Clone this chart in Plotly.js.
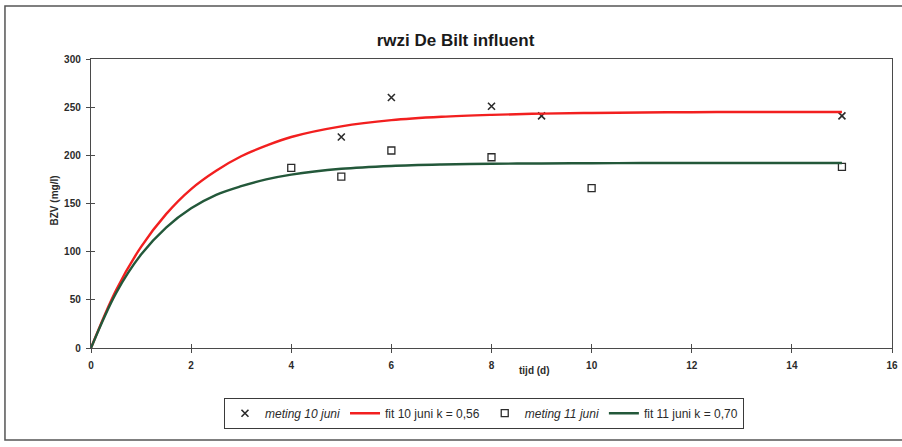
<!DOCTYPE html>
<html>
<head>
<meta charset="utf-8">
<script src="https://cdn.plot.ly/plotly-3.0.1.min.js"></script>
<style>
  html, body { margin: 0; padding: 0; background: #ffffff; }
  #chart { width: 902px; height: 447px; }
</style>
</head>
<body>
<div id="chart"></div>
<script>
// BZV measurements (mg/l) per day, two sampling dates
const meting10Dag = [5, 6, 8, 9, 15];
const meting10BZV = [219, 260, 251, 241, 241];

const meting11Dag = [4, 5, 6, 8, 10, 15];
const meting11BZV = [187, 178, 205, 198, 166, 188];

// fitted first-order BZV curves, sampled along the time axis
const fitDag   = [0, 0.5, 1, 1.5, 2, 2.5, 3, 3.5, 4, 5, 6, 7, 8, 9, 10, 11, 12, 13, 14, 15];
const fit10BZV = [0, 60, 105, 139, 165, 184, 199, 210, 219, 230, 236.5, 240, 242, 243.3, 244, 244.5, 244.8, 245, 245, 245];
const fit11BZV = [0, 57, 97, 125, 145, 159, 168, 175, 180, 186, 189, 190.5, 191.3, 191.6, 191.8, 192, 192, 192, 192, 192];

const xTicks = [0, 2, 4, 6, 8, 10, 12, 14, 16];
const yTicks = [0, 50, 100, 150, 200, 250, 300];

const FONT = 'Liberation Sans, Arial, sans-serif';
const INK = '#2b2b2b';

const traces = [
  {
    x: meting10Dag, y: meting10BZV, type: 'scatter', mode: 'markers',
    name: '<i>meting 10 juni</i>',
    marker: { symbol: 'x-thin-open', size: 7, color: INK, line: { width: 1.6, color: INK } }
  },
  {
    x: fitDag, y: fit10BZV, type: 'scatter', mode: 'lines',
    name: 'fit 10 juni k = 0,56',
    line: { color: '#f21f1f', width: 2.4, shape: 'spline', smoothing: 1 }
  },
  {
    x: meting11Dag, y: meting11BZV, type: 'scatter', mode: 'markers',
    name: '<i>meting 11 juni</i>',
    marker: { symbol: 'square-open', size: 7, color: INK, line: { width: 1.3, color: INK } }
  },
  {
    x: fitDag, y: fit11BZV, type: 'scatter', mode: 'lines',
    name: 'fit 11 juni k = 0,70',
    line: { color: '#23583a', width: 2.4, shape: 'spline', smoothing: 1 }
  }
];

const axisCommon = {
  showgrid: false, zeroline: false,
  showline: true, linecolor: '#4a4a4a', linewidth: 1.2,
  ticks: 'outside', ticklen: 4, tickwidth: 1, tickcolor: '#4a4a4a',
  tickfont: { family: FONT, size: 10, color: INK, weight: 'bold' }
};

const layout = {
  width: 902, height: 447,
  paper_bgcolor: '#ffffff', plot_bgcolor: '#ffffff',
  margin: { l: 91, r: 10, t: 59, b: 99 },
  showlegend: true,
  title: {
    text: 'rwzi De Bilt influent',
    font: { family: FONT, size: 17, color: '#1a1a1a', weight: 'bold' },
    x: 0.505, xanchor: 'center', y: 0.91, yanchor: 'middle'
  },
  xaxis: Object.assign({}, axisCommon, {
    range: [0, 16], tickvals: xTicks, ticktext: xTicks.map(String),
    mirror: true, ticklabelstandoff: 4
  }),
  yaxis: Object.assign({}, axisCommon, {
    range: [0, 300], tickvals: yTicks, ticktext: yTicks.map(String),
    mirror: true, ticklabelstandoff: 3
  }),
  // inner half of the crossing tick marks
  xaxis2: {
    overlaying: 'x', range: [0, 16], tickvals: xTicks, showticklabels: false,
    ticks: 'inside', ticklen: 4, tickwidth: 1, tickcolor: '#4a4a4a',
    showgrid: false, zeroline: false, showline: false
  },
  yaxis2: {
    overlaying: 'y', range: [0, 300], tickvals: yTicks, showticklabels: false,
    ticks: 'inside', ticklen: 4, tickwidth: 1, tickcolor: '#4a4a4a',
    showgrid: false, zeroline: false, showline: false
  },
  legend: {
    orientation: 'h', x: 0.166, xanchor: 'left', y: -0.172, yanchor: 'top',
    bordercolor: '#3a3a3a', borderwidth: 1, bgcolor: '#ffffff',
    font: { family: FONT, size: 12, color: INK },
    itemwidth: 30, tracegroupgap: 0
  },
  annotations: [
    {
      text: '<b>BZV (mg/l)</b>', xref: 'paper', yref: 'paper',
      x: -0.055, y: 0.512, textangle: -90, showarrow: false,
      font: { family: FONT, size: 10, color: INK }
    },
    {
      text: '<b>tijd (d)</b>', xref: 'paper', yref: 'paper',
      x: 0.554, y: -0.104, showarrow: false,
      font: { family: FONT, size: 10, color: INK }
    }
  ],
  shapes: [
    {
      type: 'rect', xref: 'paper', yref: 'paper',
      x0: -0.1074, x1: 1.02, y0: -0.318, y1: 1.183,
      line: { color: '#555555', width: 1.5 }, fillcolor: 'rgba(0,0,0,0)'
    }
  ]
};

// a hidden trace keeps the overlay axes drawn
traces.push({
  x: [0], y: [0], xaxis: 'x2', yaxis: 'y2', type: 'scatter', mode: 'markers',
  marker: { opacity: 0 }, showlegend: false, hoverinfo: 'skip'
});

Plotly.newPlot('chart', traces, layout, { displayModeBar: false, staticPlot: true });
</script>
</body>
</html>
